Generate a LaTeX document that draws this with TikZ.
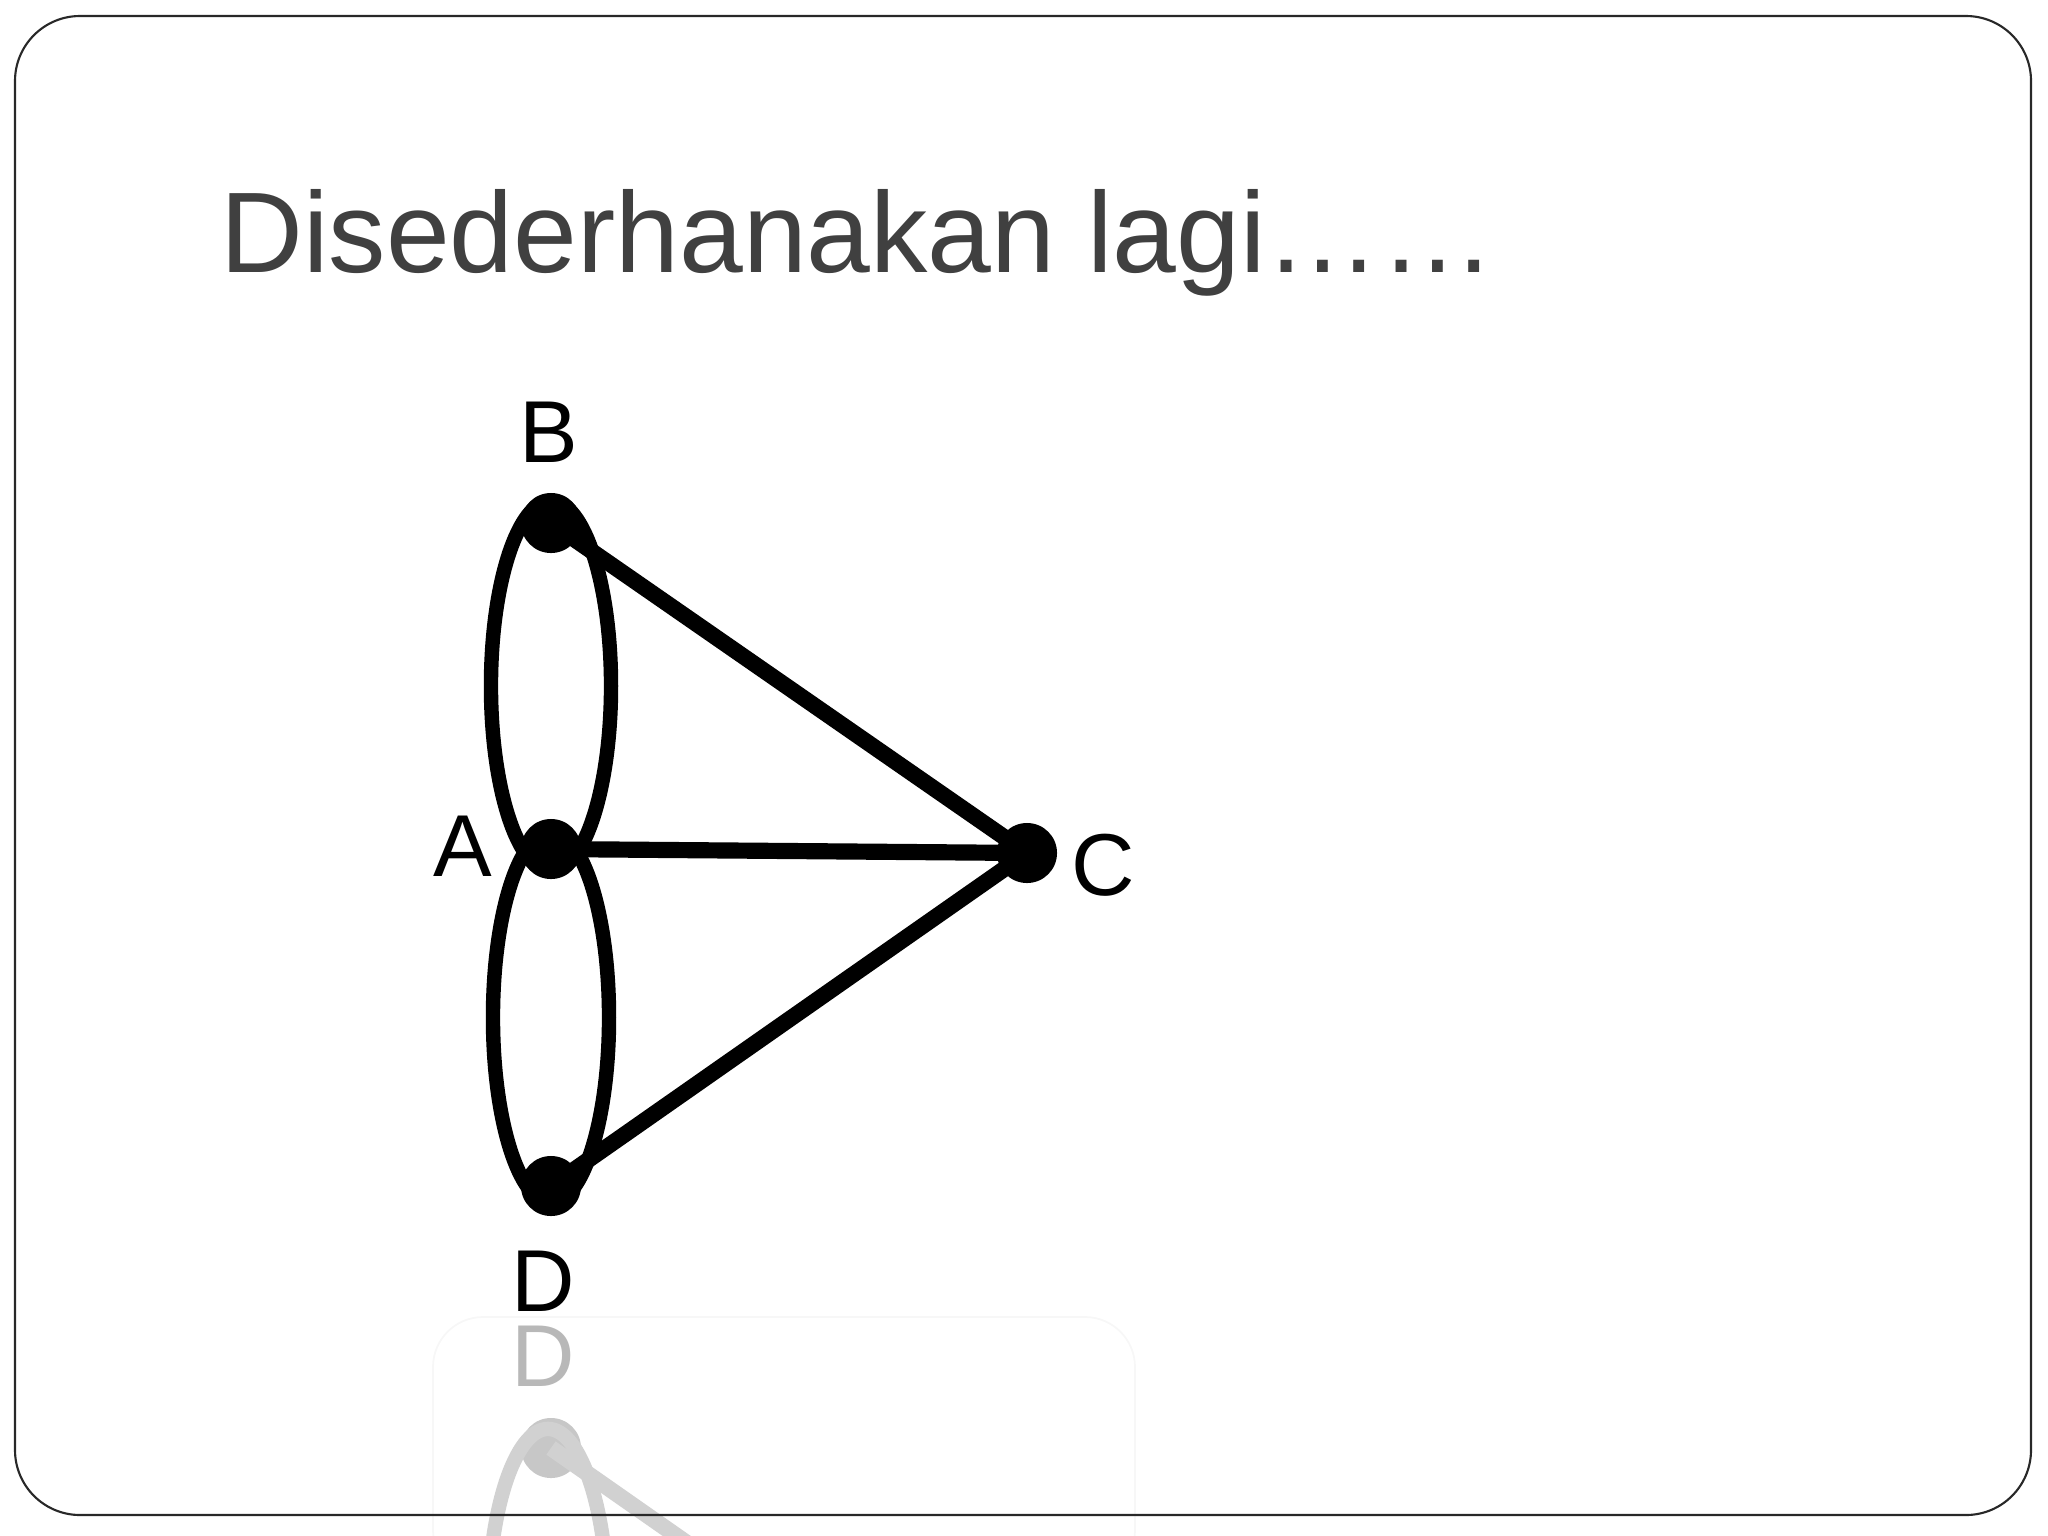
\documentclass[tikz,border=0pt]{standalone}
\usepackage{fontspec}
\setmainfont{Liberation Sans}
\usetikzlibrary{calc}
\definecolor{titlegray}{RGB}{64,64,64}
\definecolor{framegray}{RGB}{40,40,40}
\begin{document}
\begin{tikzpicture}[x=0.01cm,y=-0.01cm,
  vertex/.style={circle,fill=black,inner sep=0pt,minimum size=0.6cm},
  lbl/.style={font=\fontsize{25}{30}\selectfont,inner sep=0pt},
  edgeline/.style={line width=4.6pt},
  loopline/.style={line width=4.1pt},
  reflnode/.style={circle,fill=black!22,inner sep=0pt,minimum size=0.6cm},
  refl/.style={black!18}]
\useasboundingbox (0,0) rectangle (2048,1536);
% faint reflection
\draw[black!3, line width=0.5pt, rounded corners=0.5cm] (433,1317) rectangle (1135,1580);
\begin{scope}
  \clip (433,1317) rectangle (1135,1536);
  \node[reflnode] (rD) at (551,1448) {};
  \coordinate (rC) at (1027,1781);
  \node[lbl, text=black!28] (rDl) at (543,1356) {D};
  \draw[refl, loopline] ($(rD)+(-3,166)$) ellipse [x radius=0.6cm, y radius=1.85cm];
  \draw[refl, edgeline] (rD.center) -- (rC);
\end{scope}
% title
\node[anchor=base west, inner sep=0pt, text=titlegray, font=\fontsize{32.6}{38}\selectfont] (title) at (220,272) {Disederhanakan lagi……};
% graph
\node[vertex] (B) at (551,523) {};
\node[vertex] (A) at (551,849) {};
\node[vertex] (C) at (1027,853) {};
\node[vertex] (D) at (551,1186) {};
\node[lbl] (lB) at (549,432) {B};
\node[lbl] (lA) at (463,846) {A};
\node[lbl] (lC) at (1103,865) {C};
\node[lbl] (lD) at (543,1281) {D};
\draw[loopline] ($(B)!0.5!(A)$) ellipse [x radius=0.6cm, y radius=1.85cm];
\draw[loopline] ($(A)!0.5!(D)$) ellipse [x radius=0.58cm, y radius=1.85cm];
\draw[edgeline] (B.center) -- (C.center);
\draw[edgeline] (A.center) -- (C.center);
\draw[edgeline] (D.center) -- (C.center);
% slide frame
\draw[framegray, line width=0.6pt, rounded corners=0.65cm] (15,16) rectangle (2031,1515);
\end{tikzpicture}
\end{document}
